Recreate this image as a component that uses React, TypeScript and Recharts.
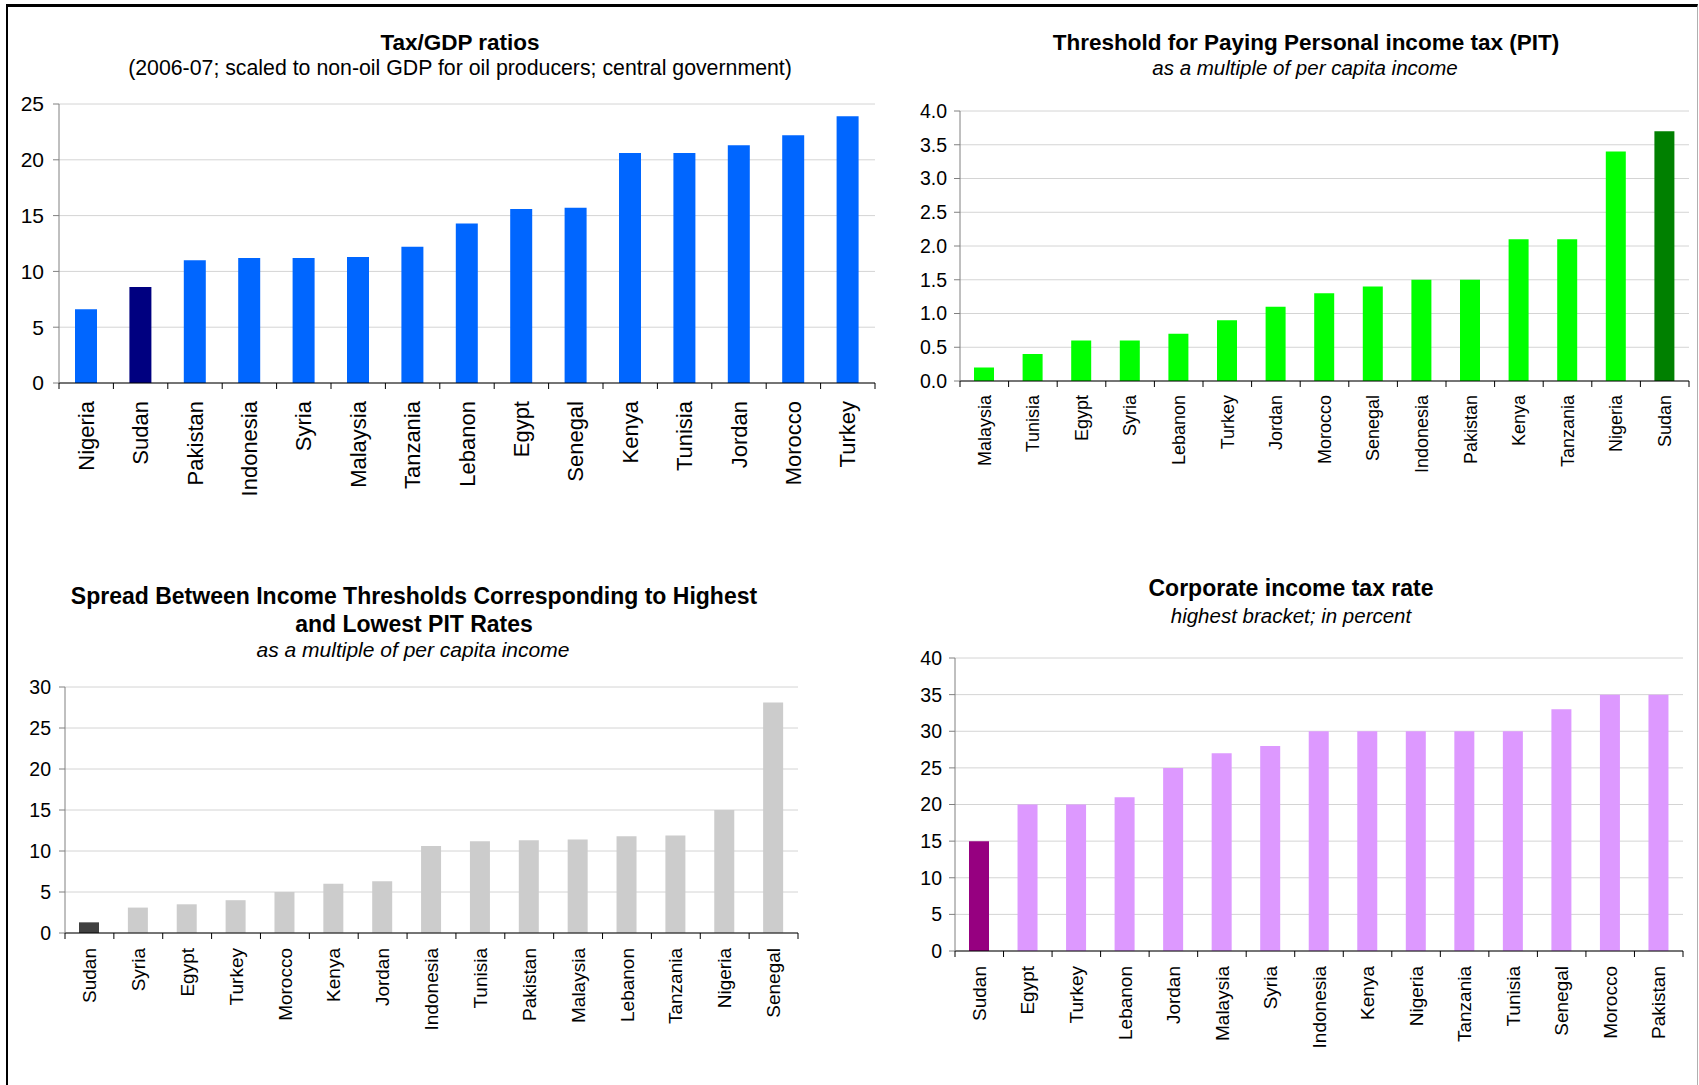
import { Bar, BarChart, CartesianGrid, Cell, XAxis, YAxis } from "recharts";

// Tax/GDP ratios, 2006-07
const gdpCountries = ["Nigeria", "Sudan", "Pakistan", "Indonesia", "Syria", "Malaysia", "Tanzania", "Lebanon", "Egypt", "Senegal", "Kenya", "Tunisia", "Jordan", "Morocco", "Turkey"];
const gdpRatios = [6.6, 8.6, 11.0, 11.2, 11.2, 11.3, 12.2, 14.3, 15.6, 15.7, 20.6, 20.6, 21.3, 22.2, 23.9];
const gdpTicks = [0, 5, 10, 15, 20, 25];

// PIT threshold, multiple of per capita income
const pitCountries = ["Malaysia", "Tunisia", "Egypt", "Syria", "Lebanon", "Turkey", "Jordan", "Morocco", "Senegal", "Indonesia", "Pakistan", "Kenya", "Tanzania", "Nigeria", "Sudan"];
const pitThresholds = [0.2, 0.4, 0.6, 0.6, 0.7, 0.9, 1.1, 1.3, 1.4, 1.5, 1.5, 2.1, 2.1, 3.4, 3.7];
const pitTicks = [0, 0.5, 1, 1.5, 2, 2.5, 3, 3.5, 4];

// spread between highest / lowest PIT thresholds
const spreadCountries = ["Sudan", "Syria", "Egypt", "Turkey", "Morocco", "Kenya", "Jordan", "Indonesia", "Tunisia", "Pakistan", "Malaysia", "Lebanon", "Tanzania", "Nigeria", "Senegal"];
const spreadValues = [1.3, 3.1, 3.5, 4.0, 5.0, 6.0, 6.3, 10.6, 11.2, 11.3, 11.4, 11.8, 11.9, 15.0, 28.1];
const spreadTicks = [0, 5, 10, 15, 20, 25, 30];

// corporate income tax, highest bracket
const citCountries = ["Sudan", "Egypt", "Turkey", "Lebanon", "Jordan", "Malaysia", "Syria", "Indonesia", "Kenya", "Nigeria", "Tanzania", "Tunisia", "Senegal", "Morocco", "Pakistan"];
const citRates = [15, 20, 20, 21, 25, 27, 28, 30, 30, 30, 30, 30, 33, 35, 35];
const citTicks = [0, 5, 10, 15, 20, 25, 30, 35, 40];

const FONT = "'Liberation Sans', Arial, sans-serif";

function CategoryTick(props: any) {
  const { x, y, payload, index, band, gap, fontSize, count } = props;
  return (
    <g>
      <line x1={x - band / 2} x2={x - band / 2} y1={y} y2={y + 6} stroke="#000" />
      {index === count - 1 && (
        <line x1={x + band / 2} x2={x + band / 2} y1={y} y2={y + 6} stroke="#000" />
      )}
      <text
        x={x}
        y={y + gap}
        dy="0.35em"
        transform={`rotate(-90, ${x}, ${y + gap})`}
        textAnchor="end"
        fontSize={fontSize}
        fill="#000"
      >
        {payload.value}
      </text>
    </g>
  );
}

type PanelProps = {
  left: number;
  top: number;
  width: number;
  height: number;
  marginTop: number;
  marginRight: number;
  yWidth: number;
  xHeight: number;
  categories: string[];
  values: number[];
  color: string;
  highlight: string;
  ticks: number[];
  tickFont: number;
  tickMargin: number;
  labelFont: number;
  labelGap: number;
  format?: (v: number) => string;
};

function Panel(p: PanelProps) {
  const data = p.categories.map((name, i) => ({ name, value: p.values[i] }));
  const plotWidth = p.width - p.yWidth - p.marginRight;
  const band = plotWidth / p.categories.length;
  return (
    <div style={{ position: "absolute", left: p.left, top: p.top }}>
      <BarChart
        width={p.width}
        height={p.height}
        data={data}
        margin={{ top: p.marginTop, right: p.marginRight, left: 0, bottom: 0 }}
        barCategoryGap={0}
      >
        <CartesianGrid vertical={false} stroke="#d4d4d4" />
        <XAxis
          dataKey="name"
          interval={0}
          height={p.xHeight}
          tickSize={0}
          tickMargin={0}
          axisLine={{ stroke: "#000" }}
          tick={
            <CategoryTick band={band} gap={p.labelGap} fontSize={p.labelFont} count={p.categories.length} />
          }
        />
        <YAxis
          width={p.yWidth}
          domain={[0, p.ticks[p.ticks.length - 1]]}
          ticks={p.ticks}
          interval={0}
          tickSize={6}
          tickMargin={p.tickMargin}
          axisLine={{ stroke: "#808080" }}
          tickLine={{ stroke: "#808080" }}
          tick={{ fontSize: p.tickFont, fill: "#000" }}
          tickFormatter={p.format}
        />
        <Bar dataKey="value" barSize={Math.round(band * 0.41)} isAnimationActive={false}>
          {data.map((d) => (
            <Cell key={d.name} fill={d.name === "Sudan" ? p.highlight : p.color} />
          ))}
        </Bar>
      </BarChart>
    </div>
  );
}

export default function App() {
  return (
    <div
      style={{
        position: "absolute",
        left: 0,
        top: 0,
        width: 1699,
        height: 1085,
        overflow: "hidden",
        background: "#fff",
        fontFamily: FONT,
      }}
    >
      <div
        style={{
          position: "absolute",
          left: 6,
          top: 4,
          width: 1692,
          height: 1081,
          boxSizing: "border-box",
          borderTop: "3px solid #000",
          borderLeft: "2px solid #000",
          borderRight: "1px solid #b0b0b0",
        }}
      />

      <Panel
        left={0}
        top={0}
        width={880}
        height={500}
        marginTop={104}
        marginRight={5}
        yWidth={59}
        xHeight={117}
        categories={gdpCountries}
        values={gdpRatios}
        color="#0066ff"
        highlight="#000080"
        ticks={gdpTicks}
        tickFont={21}
        tickMargin={9}
        labelFont={22}
        labelGap={18}
      />
      <Panel
        left={880}
        top={0}
        width={819}
        height={500}
        marginTop={111}
        marginRight={10}
        yWidth={80}
        xHeight={119}
        categories={pitCountries}
        values={pitThresholds}
        color="#00ff00"
        highlight="#008000"
        ticks={pitTicks}
        tickFont={19.5}
        tickMargin={7}
        labelFont={18}
        labelGap={14}
        format={(v) => v.toFixed(1)}
      />
      <Panel
        left={0}
        top={540}
        width={880}
        height={545}
        marginTop={147}
        marginRight={82}
        yWidth={65}
        xHeight={152}
        categories={spreadCountries}
        values={spreadValues}
        color="#cccccc"
        highlight="#404040"
        ticks={spreadTicks}
        tickFont={19.5}
        tickMargin={8}
        labelFont={19}
        labelGap={15}
      />
      <Panel
        left={880}
        top={540}
        width={819}
        height={545}
        marginTop={118}
        marginRight={16}
        yWidth={75}
        xHeight={134}
        categories={citCountries}
        values={citRates}
        color="#dd99ff"
        highlight="#960080"
        ticks={citTicks}
        tickFont={19.5}
        tickMargin={7}
        labelFont={19}
        labelGap={15}
      />

      <svg
        width={1699}
        height={1085}
        style={{ position: "absolute", left: 0, top: 0, pointerEvents: "none" }}
      >
        <g textAnchor="middle" fill="#000">
          <text x={460} y={50} fontSize={22.5} fontWeight="bold">Tax/GDP ratios</text>
          <text x={460} y={75} fontSize={21.3}>
            (2006-07; scaled to non-oil GDP for oil producers; central government)
          </text>

          <text x={1306} y={50} fontSize={22.5} fontWeight="bold">Threshold for Paying Personal income tax (PIT)</text>
          <text x={1305} y={75} fontSize={20.5} fontStyle="italic">as a multiple of per capita income</text>

          <text x={414} y={604} fontSize={23} fontWeight="bold">
            Spread Between Income Thresholds Corresponding to Highest
          </text>
          <text x={414} y={632} fontSize={23} fontWeight="bold">and Lowest PIT Rates</text>
          <text x={413} y={657} fontSize={21} fontStyle="italic">as a multiple of per capita income</text>

          <text x={1291} y={596} fontSize={23} fontWeight="bold">Corporate income tax rate</text>
          <text x={1291} y={623} fontSize={20.5} fontStyle="italic">highest bracket; in percent</text>
        </g>
      </svg>
    </div>
  );
}
